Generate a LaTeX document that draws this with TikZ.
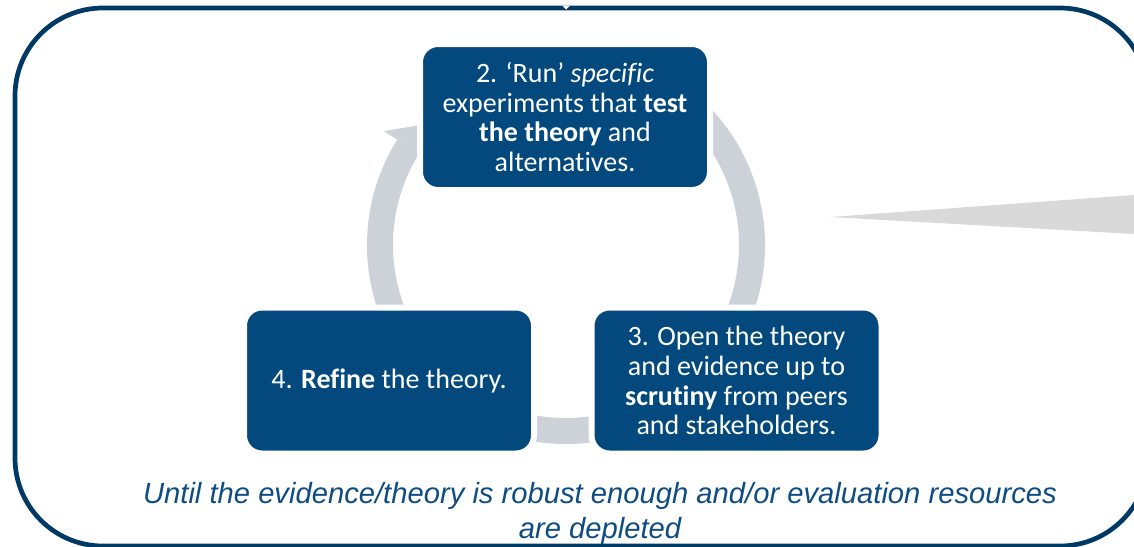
\documentclass[tikz,border=0pt]{standalone}
\usepackage{fontspec}
\newfontfamily\boxfont[Ligatures=NoCommon]{Carlito}
\newfontfamily\notefont{Liberation Sans}
\definecolor{framenavy}{RGB}{0,57,100}
\definecolor{boxblue}{RGB}{3,73,126}
\definecolor{ringgrey}{RGB}{205,209,216}
\definecolor{pointergrey}{RGB}{217,217,217}
\definecolor{notetext}{RGB}{14,76,132}
\begin{document}
\begin{tikzpicture}[x=1pt,y=-1pt,
  stepbox/.style={fill=boxblue, draw=white, line width=6pt, rounded corners=18pt,
    minimum width=290pt, minimum height=146pt, inner sep=0pt, text=white,
    align=center, font=\boxfont\fontsize{28}{29.8}\selectfont},
  notestyle/.style={text=notetext, align=center, inner sep=0pt,
    font=\notefont\itshape\fontsize{29.2}{35}\selectfont}]
\useasboundingbox (0,0) rectangle (1134,546);
\clip (0,0) rectangle (1134,546);

% outer frame
\draw[framenavy, line width=4.7pt, rounded corners=88pt] (15,8) rectangle (1148,546);
\fill[white] (562,5.5) -- (570,5.5) -- (566,9.5) -- cycle;

% grey pointer coming in from the right
\fill[pointergrey] (830,217) -- (1140,194.6) -- (1140,234.3) -- cycle;

% circular arrow behind the steps
\begin{scope}[shift={(566,245)}, y=1pt]
  \fill[ringgrey] (60:199) arc[start angle=60, end angle=-212, radius=199]
    -- (-212:173) arc[start angle=-212, end angle=60, radius=173] -- cycle;
  \fill[ringgrey] (148:215) -- (138.5:183) -- (148:157) -- cycle;
\end{scope}

% the steps
\node[stepbox] (run) at (565,117)
  {2. ‘Run’ \textit{specific}\\experiments that \textbf{test}\\\textbf{the theory} and\\alternatives.};
\node[stepbox] (open) at (736.5,380.5)
  {3. Open the theory\\and evidence up to\\\textbf{scrutiny} from peers\\and stakeholders.};
\node[stepbox] (refine) at (389,380.5) {4. \textbf{Refine} the theory.};

% closing condition
\node[notestyle] (until) at (600,513)
  {Until the evidence/theory is robust enough and/or evaluation resources\\are depleted};
\end{tikzpicture}
\end{document}
